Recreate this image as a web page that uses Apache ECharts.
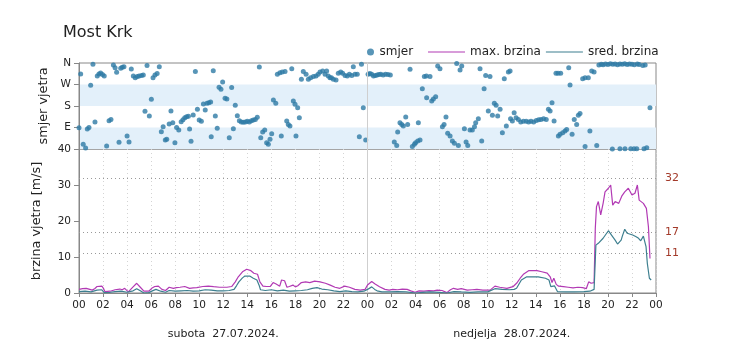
<!DOCTYPE html>
<html><head><meta charset="utf-8">
<script src="https://cdn.jsdelivr.net/npm/echarts@6/dist/echarts.min.js"></script>
<style>html,body{margin:0;padding:0;background:#fff}#c{width:748px;height:364px}</style>
</head><body><div id="c"></div>
<script>
// ---- data ----
var titleText = 'Most Krk';
var seriesNames = ['smjer', 'max. brzina', 'sred. brzina'];
var dayLabels = ['subota  27.07.2024.', 'nedjelja  28.07.2024.'];
var dirTicks = [0, 90, 180, 270, 360];
var dirLabels = ['', 'E', 'S', 'W', 'N'];
var refValues = [32, 17, 11];

// wind direction [hour, degrees]
var smjerData = [
[0.0,89],[0.14,314],[0.35,20],[0.55,4],[0.69,84],[0.83,90],[0.97,267],[1.16,355],[1.33,113],[1.52,306],[1.66,314],[1.8,318],[1.95,312],[2.1,306],
[2.3,13],[2.5,118],[2.66,123],[2.86,352],[3.0,340],[3.13,321],[3.33,28],[3.47,338],[3.6,342],[3.74,344],[4.0,54],[4.16,29],[4.35,335],[4.52,306],
[4.68,298],[4.85,304],[5.0,306],[5.2,308],[5.35,310],[5.49,158],[5.66,350],[5.85,138],[6.02,208],[6.16,298],[6.32,310],[6.5,316],[6.68,344],
[6.85,72],[7.0,93],[7.18,38],[7.3,41],[7.5,105],[7.65,159],[7.8,110],[7.98,26],[8.12,90],[8.3,80],[8.5,114],[8.65,122],[8.8,131],[8.95,135],
[9.1,137],[9.2,84],[9.32,32],[9.5,142],[9.68,324],[9.85,166],[10.0,121],[10.18,116],[10.35,188],[10.5,163],[10.65,191],[10.8,194],[10.95,197],
[11.0,51],[11.17,328],[11.34,138],[11.5,87],[11.65,258],[11.81,250],[11.95,280],[12.15,212],[12.3,209],[12.5,47],[12.7,257],[12.84,85],[13.0,183],
[13.17,139],[13.34,118],[13.5,113],[13.67,112],[13.84,113],[14.0,116],[14.17,113],[14.34,118],[14.5,121],[14.67,124],[14.83,133],[15.0,343],
[15.12,47],[15.28,71],[15.45,80],[15.61,26],[15.75,20],[15.89,41],[16.03,64],[16.17,205],[16.37,191],[16.5,313],[16.72,319],[16.83,54],[16.91,322],
[17.14,324],[17.28,117],[17.41,103],[17.55,96],[17.7,336],[17.83,201],[17.97,187],[18.05,54],[18.19,173],[18.33,131],[18.5,292],[18.66,324],
[18.89,313],[19.08,292],[19.27,298],[19.5,303],[19.72,306],[19.9,313],[20.05,322],[20.27,327],[20.47,313],[20.6,327],[20.74,306],[20.88,298],
[21.0,298],[21.16,292],[21.38,289],[21.57,317],[21.77,322],[21.93,317],[22.13,308],[22.32,306],[22.49,313],[22.69,308],[22.82,344],[22.96,313],
[23.15,313],[23.32,51],[23.5,355],[23.65,173],[23.85,38],
[24.05,313],[24.2,316],[24.35,313],[24.5,306],[24.65,308],[24.8,310],[24.95,312],[25.1,313],[25.3,310],[25.5,313],[25.7,312],[25.9,310],
[26.23,29],[26.43,15],[26.51,71],[26.7,110],[26.85,103],[26.98,96],[27.18,134],[27.34,103],[27.54,334],[27.73,10],[27.9,20],[28.0,26],
[28.18,33],[28.23,110],[28.37,38],[28.56,252],[28.73,303],[28.9,306],[28.92,215],[29.2,303],[29.34,201],[29.48,209],[29.67,219],[29.84,347],
[30.03,336],[30.23,93],[30.37,103],[30.53,134],[30.67,66],[30.87,54],[31.06,33],[31.23,24],[31.42,358],[31.56,15],[31.7,331],[31.84,347],
[32.06,85],[32.2,29],[32.34,15],[32.53,80],[32.72,80],[32.9,93],[33.0,110],[33.22,127],[33.36,336],[33.5,33],[33.7,252],[33.83,308],[34.05,159],
[34.19,303],[34.39,141],[34.55,191],[34.7,183],[34.83,138],[35.03,166],[35.22,68],[35.38,294],[35.55,96],[35.72,322],[35.86,327],[35.9,127],
[36.05,117],[36.2,152],[36.36,131],[36.55,124],[36.75,113],[36.97,116],[37.2,116],[37.4,113],[37.6,116],[37.82,113],[38.04,119],[38.24,122],
[38.43,124],[38.65,127],[38.87,124],[39.05,166],[39.19,159],[39.35,194],[39.52,117],[39.68,317],[39.85,317],[39.88,54],[40.02,62],[40.07,317],
[40.24,68],[40.43,75],[40.57,82],[40.74,340],[40.85,268],[41.02,62],[41.2,124],[41.4,103],[41.54,141],[41.68,149],[41.9,294],[42.1,10],[42.1,298],
[42.37,298],[42.5,75],[42.65,327],[42.85,322],[43.07,15],[43.25,352],[43.45,355],[43.6,353],[43.8,356],[44.0,354],[44.2,357],[44.37,0],[44.4,355],
[44.6,356],[44.8,353],[45.0,1],[45.0,356],[45.2,355],[45.4,357],[45.42,1],[45.6,354],[45.8,356],[45.9,1],[46.0,355],[46.17,1],[46.2,353],[46.4,1],
[46.45,356],[46.6,354],[46.9,350],[47.0,1],[47.1,352],[47.23,5],[47.5,173]
];

// max wind speed [hour, m/s]
var maxData = [
[0,1.0],[0.3,1.2],[0.6,1.3],[0.9,1.0],[1.1,0.8],[1.3,1.2],[1.5,1.8],[1.9,1.9],[2.05,1.2],[2.15,0.4],[2.6,0.5],[3.0,0.9],[3.4,1.1],[3.6,0.9],
[3.8,1.3],[4.1,0.3],[4.5,1.7],[4.8,2.7],[5.1,1.6],[5.4,0.5],[5.8,0.5],[6.05,1.3],[6.3,1.8],[6.6,1.9],[6.9,1.0],[7.2,0.7],[7.5,1.6],[7.85,1.3],
[8.1,1.5],[8.4,1.6],[8.8,1.8],[9.2,1.3],[9.5,1.4],[9.8,1.5],[10.3,1.8],[10.75,1.9],[11.2,1.75],[11.7,1.6],[12.3,1.6],[12.7,1.8],[13.0,3.1],
[13.25,4.5],[13.6,5.9],[13.95,6.6],[14.3,6.2],[14.55,5.5],[14.85,5.2],[15.05,3.1],[15.3,1.9],[15.6,1.8],[15.9,1.8],[16.15,2.9],[16.4,2.5],
[16.7,1.9],[16.85,3.6],[17.1,3.4],[17.3,1.6],[17.5,1.8],[17.8,2.2],[18.0,1.7],[18.2,2.0],[18.5,2.9],[18.85,3.1],[19.2,2.9],[19.6,3.3],[20.05,3.1],
[20.5,2.7],[20.9,2.2],[21.3,1.6],[21.7,1.3],[22.1,1.9],[22.5,1.6],[22.95,1.0],[23.4,0.8],[23.8,1.0],[24.0,2.2],[24.35,3.2],[24.6,2.6],[25.0,1.75],
[25.45,1.0],[25.8,0.8],[26.1,1.0],[26.5,0.9],[26.9,1.1],[27.3,1.0],[27.6,0.6],[27.95,0.2],[28.3,0.6],[28.7,0.5],[29.1,0.65],[29.5,0.6],[29.8,0.8],
[30.2,0.7],[30.6,0.1],[30.9,0.9],[31.15,1.3],[31.5,1.0],[31.8,1.2],[32.3,0.8],[32.7,0.9],[33.1,1.0],[33.6,0.8],[34.2,0.8],[34.6,1.9],[35.0,1.6],
[35.6,1.3],[36.1,1.75],[36.4,2.7],[36.7,4.1],[37.0,5.3],[37.4,6.2],[37.8,6.2],[38.1,6.2],[38.5,5.9],[38.95,5.5],[39.2,4.5],[39.35,2.9],[39.5,4.1],
[39.7,2.4],[39.9,1.9],[40.3,1.75],[40.7,1.6],[41.1,1.4],[41.5,1.6],[41.9,1.5],[42.2,1.2],[42.4,3.1],[42.6,2.7],[42.7,2.2],[42.85,2.9],[42.95,18.0],
[43.05,24.0],[43.2,25.4],[43.4,21.7],[43.6,24.9],[43.76,28.1],[44.04,29.1],[44.23,30.0],[44.4,24.4],[44.6,25.4],[44.9,24.9],[45.15,26.9],
[45.4,28.1],[45.7,29.1],[46.0,27.2],[46.25,27.7],[46.45,30.0],[46.6,25.8],[46.95,24.9],[47.2,23.5],[47.37,18.4],[47.5,9.6]
];

// mean wind speed [hour, m/s]
var sredData = [
[0,0.4],[0.5,0.5],[1.0,0.3],[1.5,0.8],[1.9,0.9],[2.1,0.1],[2.6,0.2],[3.0,0.4],[3.5,0.5],[4.0,0.2],[4.5,0.6],[4.8,1.2],[5.1,0.6],[5.4,0.0],
[5.8,0.1],[6.1,0.6],[6.4,1.0],[6.8,0.5],[7.2,0.2],[7.5,0.7],[8.0,0.5],[8.5,0.6],[9.0,0.7],[9.5,0.5],[10.0,0.6],[10.5,0.9],[11.0,0.8],[11.5,0.6],
[12.0,0.6],[12.5,0.7],[12.9,1.0],[13.1,2.0],[13.3,3.1],[13.6,4.2],[13.8,4.7],[14.2,4.7],[14.5,4.1],[14.8,3.6],[15.0,2.0],[15.1,0.9],[15.5,0.7],
[16.0,0.9],[16.5,0.6],[17.0,0.8],[17.5,0.5],[18.0,0.6],[18.5,0.7],[19.0,0.9],[19.4,1.3],[19.8,1.5],[20.2,1.1],[20.7,0.9],[21.2,0.6],[21.7,0.4],
[22.2,0.6],[22.7,0.4],[23.2,0.3],[23.7,0.5],[24.0,1.0],[24.35,1.7],[24.6,1.0],[24.8,0.6],[25.2,0.3],[25.8,0.3],[26.5,0.4],[27.2,0.3],[28.0,0.0],
[28.6,0.2],[29.2,0.3],[30.0,0.2],[30.6,0.0],[31.2,0.4],[31.8,0.3],[32.5,0.2],[33.2,0.3],[34.0,0.3],[34.6,1.2],[35.2,1.0],[35.8,0.9],[36.2,1.0],
[36.4,1.3],[36.8,3.6],[37.25,4.5],[37.7,4.5],[38.2,4.5],[38.8,4.1],[39.1,3.6],[39.25,1.75],[39.4,1.5],[39.55,2.0],[39.8,0.4],[40.5,0.3],[41.2,0.3],
[42.0,0.4],[42.5,0.5],[42.85,1.0],[43.0,13.3],[43.2,13.8],[43.3,13.3],[43.6,15.2],[44.04,17.3],[44.3,16.1],[44.6,14.7],[44.8,13.6],[45.1,14.7],
[45.2,15.8],[45.4,17.7],[45.6,16.6],[45.8,16.4],[46.06,16.1],[46.35,15.6],[46.55,15.2],[46.73,14.5],[46.95,15.8],[47.17,12.9],[47.28,8.2],
[47.45,4.1],[47.6,3.6]
];

// ---- chart ----
var FONT = 'DejaVu Sans';
var TXT = '#222';
var AX = '#888';
function pad2(v){ var h = Math.round(v) % 24; return (h < 10 ? '0' : '') + h; }

var chart = echarts.init(document.getElementById('c'), null, {renderer:'canvas'});
chart.setOption({
  animation: false,
  backgroundColor: '#fff',
  textStyle: {fontFamily: FONT},
  title: {text: titleText, left: 58, top: 20,
    textStyle: {fontFamily: FONT, fontSize: 16, fontWeight: 'normal', color: TXT}},
  legend: [
    {data: [seriesNames[0]], left: 362, top: 41, icon: 'circle', itemWidth: 8, itemHeight: 7,
     textStyle: {fontFamily: FONT, fontSize: 12, color: TXT}},
    {data: [{name: seriesNames[1], icon: 'rect'}, {name: seriesNames[2], icon: 'rect'}],
     left: 423, top: 41, itemWidth: 37, itemHeight: 1, itemGap: 5,
     textStyle: {fontFamily: FONT, fontSize: 12, color: TXT}}
  ],
  grid: [
    {left: 79, top: 63, width: 577, height: 86, show: true, borderColor: AX, borderWidth: 1, backgroundColor: 'transparent'},
    {left: 79, top: 149, width: 577, height: 144, show: true, borderColor: AX, borderWidth: 1, backgroundColor: 'transparent'}
  ],
  xAxis: [
    {type: 'value', gridIndex: 0, min: 0, max: 48, interval: 2,
     axisLine: {show: false}, axisTick: {show: false}, axisLabel: {show: false}, splitLine: {show: false}},
    {type: 'value', gridIndex: 1, min: 0, max: 48, interval: 2,
     axisLine: {show: true, lineStyle: {color: AX}},
     axisTick: {show: true, length: 4, lineStyle: {color: AX}},
     axisLabel: {show: true, margin: 7, fontFamily: FONT, fontSize: 10.5, color: TXT, showMaxLabel: true, formatter: pad2},
     splitLine: {show: true, lineStyle: {color: '#d4d4d4', type: [1, 3], width: 1}}},
    {type: 'value', gridIndex: 1, min: 0, max: 48, interval: 12, position: 'bottom', offset: 28,
     axisLine: {show: false}, axisTick: {show: false}, splitLine: {show: false},
     axisLabel: {show: true, margin: 8, fontFamily: FONT, fontSize: 11, color: TXT, showMinLabel: false, showMaxLabel: false,
       formatter: function(v){ if (v === 12) return dayLabels[0]; if (v === 36) return dayLabels[1]; return ''; }}}
  ],
  yAxis: [
    {type: 'value', gridIndex: 0, min: 0, max: 360, interval: 90,
     name: 'smjer vjetra', nameLocation: 'middle', nameGap: 29, nameRotate: 90,
     nameTextStyle: {fontFamily: FONT, fontSize: 12.8, color: TXT},
     axisLine: {show: true, lineStyle: {color: AX}},
     axisTick: {show: true, length: 5, lineStyle: {color: AX}},
     axisLabel: {margin: 8, fontFamily: FONT, fontSize: 10.5, color: TXT,
       formatter: function(v){ var i = dirTicks.indexOf(v); return i >= 0 ? dirLabels[i] : ''; }},
     splitLine: {show: false},
     splitArea: {show: true, areaStyle: {color: ['#e3f0fa', 'rgba(255,255,255,0)']}}},
    {type: 'value', gridIndex: 1, min: 0, max: 40, interval: 10,
     name: 'brzina vjetra [m/s]', nameLocation: 'middle', nameGap: 36, nameRotate: 90,
     nameTextStyle: {fontFamily: FONT, fontSize: 12.8, color: TXT},
     axisLine: {show: true, lineStyle: {color: AX}},
     axisTick: {show: true, length: 5, lineStyle: {color: AX}},
     axisLabel: {margin: 8, fontFamily: FONT, fontSize: 10.5, color: TXT},
     splitLine: {show: false}}
  ],
  series: [
    {name: seriesNames[0], type: 'scatter', xAxisIndex: 0, yAxisIndex: 0, data: smjerData,
     symbolSize: 5, itemStyle: {color: '#2e7ba5'}, z: 3,
     markLine: {silent: true, symbol: 'none', label: {show: false},
       lineStyle: {color: '#cfcfcf', type: 'solid', width: 1}, data: [{xAxis: 24}]}},
    {name: seriesNames[1], type: 'line', xAxisIndex: 1, yAxisIndex: 1, data: maxData,
     symbol: 'none', showSymbol: false, lineStyle: {color: '#b23ab4', width: 1.2}, itemStyle: {color: '#b23ab4'}, z: 3,
     markLine: {silent: true, symbol: 'none', z: 1,
       lineStyle: {color: '#999', type: [1, 3], width: 1},
       label: {show: true, position: 'end', distance: 9, fontFamily: FONT, fontSize: 11, color: '#a33a2a',
         formatter: function(p){ return String(p.value); }},
       data: refValues.map(function(v){ return {yAxis: v}; }).concat([
         {xAxis: 24, label: {show: false}, lineStyle: {color: '#cfcfcf', type: 'solid', width: 1}}])}},
    {name: seriesNames[2], type: 'line', xAxisIndex: 1, yAxisIndex: 1, data: sredData,
     symbol: 'none', showSymbol: false, lineStyle: {color: '#3d7f8f', width: 1.2}, itemStyle: {color: '#3d7f8f'}, z: 3}
  ]
});
</script>
</body></html>
